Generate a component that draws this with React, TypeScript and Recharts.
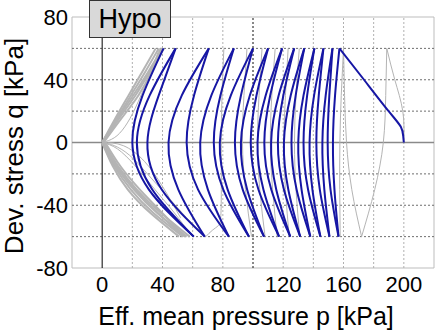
import React from "react";
import { LineChart, Line, XAxis, YAxis, ReferenceLine, ReferenceArea } from "recharts";

const qLevels = [60, 30, 0, -30, -60];

// blue path: first loading, then cyclic half-cycles (p at each q level)
const blueLoadP = [200, 199.6, 198, 189.9, 173.6, 157.3];
const blueLoadQ = [0, 4, 10, 20, 40, 60];
const blueArcs = [
  [157.3, 154.4, 153, 154, 156.7],
  [152.7, 150.6, 149.5, 151.4, 156.7],
  [152.7, 148.2, 146, 147.3, 150.7],
  [146.7, 143.6, 142, 144.3, 150.7],
  [146.7, 140.5, 137.5, 139.4, 144.7],
  [140.7, 135.9, 133.5, 136.5, 144.7],
  [140.7, 133.5, 130, 132.2, 138],
  [134, 128.3, 125.5, 128.9, 138],
  [134, 125, 120.5, 123.4, 131.3],
  [127.3, 120.1, 116.5, 120.5, 131.3],
  [127.3, 117, 112, 115.4, 124.7],
  [119.3, 111.4, 107.5, 112.1, 124.7],
  [119.3, 108.4, 103, 106.9, 117.3],
  [110, 102.3, 98.5, 103.6, 117.3],
  [110, 97.9, 92, 96.1, 107.3],
  [100, 92, 88, 93.2, 107.3],
  [100, 85.3, 78, 83.2, 97.3],
  [87.3, 78.4, 74, 80.3, 97.3],
  [87.3, 72.4, 65, 70.1, 84],
  [70.7, 60.9, 56, 63.6, 84],
  [70.7, 52.8, 44, 50.5, 68],
  [48.7, 37.5, 30, 39.5, 68],
  [48.7, 31.5, 23, 33.2, 60.7],
  [40.7, 26.8, 20, 31, 60.7],
];

// gray path
const grayLoadP = [200, 199.3, 194, 188.7];
const grayLoadQ = [0, 20, 40, 60];
const grayArcs = [
  [188.7, 188, 186.4, 180.7, 172],
  [160, 160.7, 162, 165.5, 172],
  [160, 158.5, 157.6, 157.5, 157.8],
  [130.7, 128.5, 127.5, 128.5, 131],
  [123.3, 121.5, 120.5, 121.5, 124],
  [114.7, 112.5, 111.5, 113, 116],
  [106, 104, 103, 104.5, 108],
  [96, 94, 93, 95, 99],
];
const grayTailP = [80.7, 79.8, 79.2, 79, 79, 78.6, 77, 73, 68.7];
const grayTailQ = [60, 40, 20, 0, -30, -48, -53, -56, -60];
const grayBackP = [68.7, 56, 43, 30, 18, 8, 2, 0];
const grayBackQ = [-60, -48, -34, -20, -8, -2, -0.3, 0];

// butterfly loops near the origin
const bflyUpQ = [0, 15, 30, 45, 60];
const bflyUp = [
  [0, 8.5, 17.5, 26.5, 35.5],
  [0, 9.5, 19, 28.5, 37.5],
  [0, 10, 20.5, 30.5, 40],
  [0.5, 11, 22, 31.5, 41],
  [1, 12.5, 24, 32.5, 39],
];
const bflyLowQ = [0, -15, -30, -45, -60];
const bflyLow = [
  [0, 7, 17, 32, 51],
  [0, 8, 19, 34, 53.5],
  [0.5, 9, 21, 36.5, 56],
  [1, 10.5, 23, 39, 58],
  [2, 12, 25, 40, 55],
  [1, 9.5, 22, 37, 54],
];
const thinAP = [0, 8, 15, 22, 30, 38];
const thinAQ = [0, 3, 10, 22, 40, 60];
const thinBP = [0, 10, 22, 35, 48, 58];
const thinBQ = [0, -4, -15, -30, -45, -58];
const thinCP = [0, 14, 28, 40, 52];
const thinCQ = [0, -2, -12, -28, -48];

const xTicks = [0, 40, 80, 120, 160, 200];
const yTicks = [-80, -40, 0, 40, 80];
const xGrid = [20, 40, 60, 80, 120, 140, 160, 180, 200];
const yGrid = [-60, -40, -20, 20, 40, 60];

const pts = (ps: number[], qs: number[]) => ps.map((p, i) => ({ p, q: qs[i] }));

const BLUE = "#1616a4";
const GRAY = "#b4b4b4";
const FONT = "'Liberation Sans', Arial, sans-serif";

export default function App() {
  const grayThin = [
    pts(grayLoadP, grayLoadQ),
    ...grayArcs.map((a) => pts(a, qLevels)),
    pts(grayTailP, grayTailQ),
    pts(grayBackP, grayBackQ),
    pts(thinAP, thinAQ),
    pts(thinBP, thinBQ),
    pts(thinCP, thinCQ),
  ];
  const grayThick = [
    ...bflyUp.map((a) => pts(a, bflyUpQ)),
    ...bflyLow.map((a) => pts(a, bflyLowQ)),
  ];
  const bluePaths = [pts(blueLoadP, blueLoadQ), ...blueArcs.map((a) => pts(a, qLevels))];

  return (
    <div style={{ position: "absolute", left: 0, top: 0, width: 435, height: 331, background: "#fff" }}>
      <LineChart width={435} height={331} margin={{ top: 17, right: 1, bottom: 13, left: 12 }}>
        <XAxis
          type="number"
          dataKey="p"
          domain={[-20, 220]}
          ticks={xTicks}
          allowDataOverflow
          height={50}
          tickLine={false}
          axisLine={false}
          tick={{ fill: "#000", fontSize: 22, fontFamily: FONT }}
        />
        <YAxis
          type="number"
          dataKey="q"
          domain={[-80, 80]}
          ticks={yTicks}
          allowDataOverflow
          width={60}
          tickLine={false}
          axisLine={false}
          tickSize={2}
          tick={{ fill: "#000", fontSize: 22, fontFamily: FONT }}
        />
        {xGrid.map((x) => (
          <ReferenceLine key={"vx" + x} x={x} stroke="#b0b0b0" strokeDasharray="2 2" />
        ))}
        {yGrid.map((y) => (
          <ReferenceLine key={"hy" + y} y={y} stroke="#6e6e6e" strokeDasharray="2 2" />
        ))}
        <ReferenceLine x={100} stroke="#111" strokeDasharray="2 2" />
        <ReferenceLine y={0} stroke="#8a8a8a" strokeWidth={1.6} />
        <ReferenceLine x={0} stroke="#000" strokeWidth={1} />
        <ReferenceArea x1={-20} x2={220} y1={-80} y2={80} fill="none" stroke="#bdbdbd" strokeWidth={1} />
        {grayThick.map((d, i) => (
          <Line key={"gt" + i} data={d} dataKey="q" type="natural" stroke={GRAY} strokeWidth={2} dot={false} activeDot={false} isAnimationActive={false} />
        ))}
        {grayThin.map((d, i) => (
          <Line key={"g" + i} data={d} dataKey="q" type="natural" stroke={GRAY} strokeWidth={1} dot={false} activeDot={false} isAnimationActive={false} />
        ))}
        {bluePaths.map((d, i) => (
          <Line key={"b" + i} data={d} dataKey="q" type="natural" stroke={BLUE} strokeWidth={2} dot={false} activeDot={false} isAnimationActive={false} />
        ))}
      </LineChart>
      <div
        style={{
          position: "absolute",
          left: 89,
          top: 0,
          width: 80,
          height: 36,
          background: "#d9d9d9",
          border: "1px solid #333",
          fontFamily: FONT,
          fontSize: 27,
          lineHeight: "36px",
          textAlign: "center",
        }}
      >
        Hypo
      </div>
      <svg width={435} height={331} style={{ position: "absolute", left: 0, top: 0, pointerEvents: "none" }}>
        <text x={246} y={325} textAnchor="middle" fontSize={25} fontFamily={FONT} fill="#000">
          Eff. mean pressure p [kPa]
        </text>
        <text x={23} y={146} textAnchor="middle" fontSize={26} fontFamily={FONT} fill="#000" transform="rotate(-90 23 146)">
          Dev. stress q [kPa]
        </text>
      </svg>
    </div>
  );
}
